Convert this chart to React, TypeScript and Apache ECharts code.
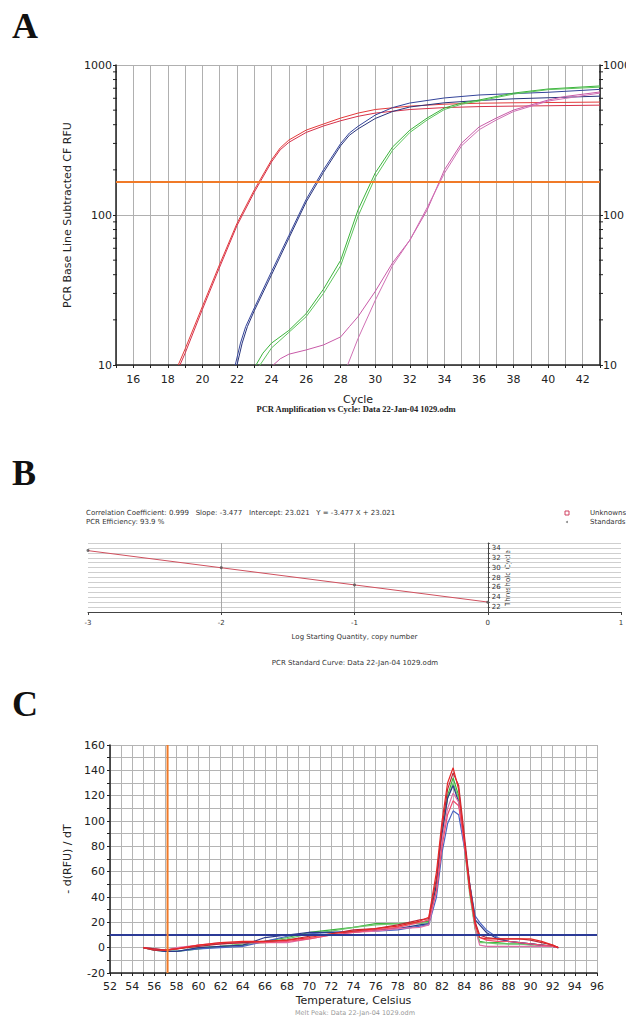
import React, { useEffect, useRef } from "react";
import * as echarts from "echarts";

// ---------- Panel A : amplification ----------
const cycleMin = 15;
const cycleMax = 43;
const rfuMinorTicks = [20, 30, 40, 50, 60, 70, 80, 90, 200, 300, 400, 500, 600, 700, 800, 900];
const thresholdRFU = 166;

const ampRed1 = [[18.6, 10], [19, 12.8], [20, 24.6], [21, 47], [22, 88], [23, 147], [24, 233], [24.5, 280], [25, 316], [26, 368], [27, 404], [28, 443], [29, 478], [30, 505], [32, 532], [34, 548], [36, 556], [38, 560], [40, 562], [43, 566]];
const ampRed2 = [[18.7, 10], [19, 12], [20, 23.5], [21, 45], [22, 85], [23, 142], [24, 226], [24.5, 272], [25, 305], [26, 355], [27, 392], [28, 425], [29, 455], [30, 478], [32, 505], [34, 520], [36, 528], [38, 532], [40, 535], [43, 540]];
const ampBlue1 = [[21.9, 10], [22.2, 14], [22.5, 18], [23, 24], [24, 42], [25, 73], [26, 127], [27, 200], [28, 300], [28.5, 352], [29, 390], [30, 464], [31, 520], [32, 558], [34, 603], [36, 631], [38, 645], [40, 658], [43, 688]];
const ampBlue2 = [[22, 10], [22.3, 14], [22.6, 18], [23, 23], [24, 40], [25, 70], [26, 122], [27, 192], [28, 290], [28.5, 340], [29, 375], [30, 440], [31, 490], [32, 525], [34, 560], [36, 580], [38, 595], [40, 605], [43, 620]];
const ampGreen1 = [[23.1, 10], [23.5, 12], [24, 14], [25, 17], [26, 22], [27, 32], [28, 50], [29, 108], [30, 191], [31, 284], [32, 368], [33, 443], [34, 517], [35, 558], [36, 584], [38, 650], [40, 692], [43, 725]];
const ampGreen2 = [[23.2, 9.5], [24, 13], [25, 16.5], [26, 21], [27, 30], [28, 46], [29, 98], [30, 178], [31, 270], [32, 355], [33, 430], [34, 505], [35, 548], [36, 575], [38, 640], [40, 685], [43, 712]];
const ampPink1 = [[24.1, 10], [24.5, 11], [25, 11.8], [26, 12.6], [27, 13.6], [28, 15.4], [28.5, 18], [29, 21], [30, 31], [31, 48], [32, 68], [33, 108], [34, 200], [35, 302], [36, 386], [37, 443], [38, 501], [39, 541], [40, 584], [41, 617], [43, 661]];
const ampPink2 = [[28.4, 10], [29, 15], [30, 27], [31, 46], [32, 68], [33, 112], [34, 190], [35, 290], [36, 370], [37, 430], [38, 490], [40, 575], [43, 650]];

// ---------- Panel B : standard curve ----------
const logQtyMin = -3;
const logQtyMax = 1;
const ctMin = 21;
const ctMax = 35;
const fitLine = [[-3, 33.45], [0, 23.02]];
const standards = [[-3, 33.5], [-2, 30.0], [-1, 26.5], [0, 23.0]];
const statsLine1 = "Correlation Coefficient: 0.999   Slope: -3.477   Intercept: 23.021   Y = -3.477 X + 23.021";
const statsLine2 = "PCR Efficiency: 93.9 %";

// ---------- Panel C : melt peak ----------
const tempMin = 52;
const tempMax = 96;
const meltThreshold = 10;
const meltBeginTemp = 57.2;
const meltTemps = [55, 56, 57, 58, 60, 62, 64, 66, 68, 70, 72, 74, 76, 78, 80, 80.8, 81.5, 82, 82.5, 83, 83.5, 84, 84.5, 85, 85.4, 86, 87, 88, 89, 90, 91, 92, 92.5];
const meltRed1 = [0, -2, -2, -1, 2, 4, 5, 5, 6, 8, 11, 13, 15, 17, 21, 24, 60, 100, 130, 142, 125, 85, 45, 18, 8, 7, 7, 7, 7, 7, 5, 2, 0];
const meltRed2 = [0, -1, -2, -1, 1, 3, 4, 5, 6, 9, 11, 14, 15, 18, 22, 23, 55, 95, 125, 138, 128, 90, 50, 20, 10, 8, 7, 7, 7, 6, 4, 2, 0];
const meltRed3 = [0, -1, -2, -1, 2, 3, 4, 4, 5, 7, 10, 12, 14, 16, 20, 22, 45, 80, 105, 116, 112, 85, 48, 20, 8, 6, 5, 5, 4, 3, 2, 1, 0];
const meltGreen1 = [0, -1, -3, -3, -1, 1, 2, 5, 8, 12, 14, 16, 19, 19, 20, 21, 50, 90, 120, 134, 120, 85, 45, 15, 5, 4, 4, 3, 3, 3, 2, 1, 0];
const meltGreen2 = [0, -2, -3, -3, 0, 1, 3, 4, 7, 11, 13, 16, 18, 19, 19, 20, 48, 88, 118, 130, 118, 80, 42, 14, 4, 4, 3, 3, 3, 2, 2, 1, 0];
const meltBlue1 = [0, -2, -3, -3, 0, 1, 2, 8, 10, 12, 12, 12, 14, 15, 18, 19, 50, 90, 118, 128, 115, 85, 50, 22, 18, 12, 7, 5, 4, 3, 2, 1, 0];
const meltBlue2 = [0, -1, -3, -3, -1, 0, 1, 5, 9, 11, 12, 13, 13, 14, 17, 18, 40, 75, 98, 108, 105, 80, 50, 25, 20, 14, 8, 5, 4, 3, 2, 1, 0];
const meltPink1 = [0, -1, -2, 0, 2, 4, 4, 4, 4, 7, 10, 12, 13, 15, 16, 18, 45, 85, 110, 122, 115, 82, 45, 15, 2, 1, 1, 1, 1, 1, 1, 1, 0];

const FONT = "DejaVu Sans";

function ampLine(data: number[][], color: string) {
  return {
    type: "line", xAxisIndex: 0, yAxisIndex: 0, data, showSymbol: false, symbol: "none",
    lineStyle: { color, width: 1 }, clip: true, silent: true, z: 3,
  };
}
function meltLine(values: number[], color: string) {
  return {
    type: "line", xAxisIndex: 2, yAxisIndex: 3, data: meltTemps.map((t, i) => [t, values[i]]),
    showSymbol: false, symbol: "none", lineStyle: { color, width: 1.2 }, silent: true, z: 3,
  };
}

export default function App() {
  const ref = useRef<HTMLDivElement>(null);
  useEffect(() => {
    if (!ref.current) return;
    const chart = echarts.init(ref.current, null, { renderer: "svg" });
    const evenLabel = (v: number) => (Math.round(v) % 2 === 0 ? String(Math.round(v)) : "");
    const gridB = { left: 88, top: 543, width: 533, height: 69 };
    // pixel offset that puts panel B's threshold-cycle axis at log quantity 0
    const ctAxisOffset = -(gridB.width * (0 - logQtyMin)) / (logQtyMax - logQtyMin);
    const option: any = {
      animation: false,
      textStyle: { fontFamily: FONT },
      grid: [
        { left: 116, top: 65, width: 484, height: 300, outerBoundsMode: "none" },
        { ...gridB, outerBoundsMode: "none" },
        { left: 110, top: 745, width: 487, height: 228, outerBoundsMode: "none" },
      ],
      xAxis: [
        {
          gridIndex: 0, type: "value", min: cycleMin, max: cycleMax, interval: 1,
          name: "Cycle", nameLocation: "middle", nameGap: 29,
          nameTextStyle: { fontSize: 11, color: "#222", fontFamily: FONT },
          axisLine: { onZero: false, lineStyle: { color: "#222", width: 1.5 } },
          axisTick: { show: true, length: 3, inside: false, lineStyle: { color: "#222" } },
          axisLabel: { formatter: evenLabel, fontSize: 11, color: "#222", margin: 9 },
          splitLine: { show: true, lineStyle: { color: "#b0b0b0", width: 1 } },
        },
        {
          gridIndex: 1, type: "value", min: logQtyMin, max: logQtyMax, interval: 1,
          name: "Log Starting Quantity, copy number", nameLocation: "middle", nameGap: 21,
          nameTextStyle: { fontSize: 7, color: "#333", fontFamily: FONT },
          axisLine: { onZero: false, lineStyle: { color: "#444", width: 1 } },
          axisTick: { show: true, length: 3, lineStyle: { color: "#444" } },
          axisLabel: { fontSize: 7, color: "#333", margin: 7 },
          splitLine: { show: true, showMinLine: false, showMaxLine: false, lineStyle: { color: "#a8a8a8", width: 1 } },
        },
        {
          gridIndex: 2, type: "value", min: tempMin, max: tempMax, interval: 1,
          name: "Temperature, Celsius", nameLocation: "middle", nameGap: 22,
          nameTextStyle: { fontSize: 11, color: "#222", fontFamily: FONT },
          axisLine: { onZero: false, lineStyle: { color: "#222", width: 1.5 } },
          axisTick: { show: true, length: 3, lineStyle: { color: "#222" } },
          axisLabel: { formatter: evenLabel, fontSize: 11, color: "#222", margin: 8 },
          splitLine: { show: true, lineStyle: { color: "#b4b4b4", width: 1 } },
        },
      ],
      yAxis: [
        {
          gridIndex: 0, type: "log", logBase: 10, min: 10, max: 1000, position: "left",
          name: "PCR Base Line Subtracted CF RFU", nameLocation: "middle", nameGap: 40,
          nameTextStyle: { fontSize: 11, color: "#222", fontFamily: FONT },
          axisLine: { show: true, onZero: false, lineStyle: { color: "#222", width: 1.5 } },
          axisTick: { show: true, length: 3, lineStyle: { color: "#222" } },
          axisLabel: { formatter: (v: number) => String(Math.round(v)), fontSize: 11, color: "#222", margin: 4 },
          splitLine: { show: true, lineStyle: { color: "#b0b0b0", width: 1.2 } },
        },
        {
          gridIndex: 0, type: "log", logBase: 10, min: 10, max: 1000, position: "right",
          axisLine: { show: true, onZero: false, lineStyle: { color: "#222", width: 1.5 } },
          axisTick: { show: true, length: 3, lineStyle: { color: "#222" } },
          axisLabel: { formatter: (v: number) => String(Math.round(v)), fontSize: 11, color: "#222", margin: 3 },
          splitLine: { show: false },
        },
        {
          gridIndex: 1, type: "value", min: ctMin, max: ctMax, interval: 1, position: "left",
          offset: ctAxisOffset,
          axisLine: { show: true, onZero: false, lineStyle: { color: "#444", width: 1 } },
          axisTick: { show: true, inside: true, length: 2, lineStyle: { color: "#444" } },
          axisLabel: { inside: true, formatter: (v: number) => (v % 2 === 0 && v >= 22 && v <= 34 ? String(v) : ""), fontSize: 7, color: "#333", margin: 4 },
          splitLine: { show: true, lineStyle: { color: "#cfcfcf", width: 1 } },
        },
        {
          gridIndex: 2, type: "value", min: -20, max: 160, interval: 10, position: "left",
          name: "- d(RFU) / dT", nameLocation: "middle", nameGap: 37,
          nameTextStyle: { fontSize: 11, color: "#222", fontFamily: FONT },
          axisLine: { show: true, onZero: false, lineStyle: { color: "#222", width: 1.5 } },
          axisTick: { show: true, length: 3, lineStyle: { color: "#222" } },
          axisLabel: { formatter: (v: number) => (v % 20 === 0 ? String(v) : ""), fontSize: 11, color: "#222", margin: 5 },
          splitLine: { show: true, lineStyle: { color: "#b4b4b4", width: 1 } },
        },
      ],
      series: [
        ampLine(ampRed1, "#e33a3a"),
        ampLine(ampRed2, "#d6304a"),
        ampLine(ampBlue1, "#34449a"),
        ampLine(ampBlue2, "#28347c"),
        ampLine(ampGreen1, "#3cb43c"),
        ampLine(ampGreen2, "#5cc45c"),
        ampLine(ampPink1, "#c85aa8"),
        ampLine(ampPink2, "#d070b4"),
        {
          type: "line", xAxisIndex: 0, yAxisIndex: 0, showSymbol: false, symbol: "none",
          data: [[cycleMin, thresholdRFU], [cycleMax, thresholdRFU]],
          lineStyle: { color: "#f07a28", width: 2 }, z: 4, silent: true,
        },
        {
          type: "custom", xAxisIndex: 0, yAxisIndex: 0, silent: true, clip: false, z: 5,
          data: rfuMinorTicks.map((v) => [cycleMin, v]),
          renderItem: (_p: any, api: any) => {
            const a = api.coord([cycleMin, api.value(1)]);
            const b = api.coord([cycleMax, api.value(1)]);
            return {
              type: "group",
              children: [
                { type: "line", shape: { x1: a[0] - 3, y1: a[1], x2: a[0] + 1, y2: a[1] }, style: { stroke: "#222", lineWidth: 1 } },
                { type: "line", shape: { x1: b[0] - 1, y1: b[1], x2: b[0] + 3, y2: b[1] }, style: { stroke: "#222", lineWidth: 1 } },
              ],
            };
          },
        },
        // Panel B
        {
          type: "line", xAxisIndex: 1, yAxisIndex: 2, data: fitLine, showSymbol: false, symbol: "none",
          lineStyle: { color: "#d0505e", width: 1 }, z: 3, silent: true,
        },
        {
          type: "scatter", xAxisIndex: 1, yAxisIndex: 2, data: standards, symbol: "circle", symbolSize: 3,
          itemStyle: { color: "#555" }, z: 4, silent: true,
        },
        // Panel C
        meltLine(meltGreen1, "#3cb43c"),
        meltLine(meltGreen2, "#70c870"),
        meltLine(meltBlue2, "#4a64c4"),
        meltLine(meltBlue1, "#2a3a8a"),
        meltLine(meltPink1, "#e070a8"),
        meltLine(meltRed3, "#f05070"),
        meltLine(meltRed2, "#b82838"),
        meltLine(meltRed1, "#e82828"),
        {
          type: "line", xAxisIndex: 2, yAxisIndex: 3, showSymbol: false, symbol: "none",
          data: [[tempMin, meltThreshold], [tempMax, meltThreshold]],
          lineStyle: { color: "#2b3a96", width: 2 }, z: 4, silent: true,
        },
        {
          type: "line", xAxisIndex: 2, yAxisIndex: 3, showSymbol: false, symbol: "none",
          data: [[meltBeginTemp, -20], [meltBeginTemp, 160]],
          lineStyle: { color: "#f07a28", width: 2 }, z: 4, silent: true,
        },
      ],
      graphic: [
        { type: "text", left: 12, top: 8, style: { text: "A", font: "bold 36px 'Liberation Serif'", fill: "#111" } },
        { type: "text", left: 12, top: 455, style: { text: "B", font: "bold 36px 'Liberation Serif'", fill: "#111" } },
        { type: "text", left: 12, top: 686, style: { text: "C", font: "bold 36px 'Liberation Serif'", fill: "#111" } },
        { type: "text", x: 356, y: 409, style: { text: "PCR Amplification vs Cycle: Data 22-Jan-04 1029.odm", font: "bold 8.5px 'Liberation Serif'", fill: "#222", textAlign: "center", textVerticalAlign: "middle" } },
        { type: "text", x: 86, y: 513, style: { text: statsLine1, font: `7px '${FONT}'`, fill: "#333", textVerticalAlign: "middle" } },
        { type: "text", x: 86, y: 522, style: { text: statsLine2, font: `7px '${FONT}'`, fill: "#333", textVerticalAlign: "middle" } },
        { type: "rect", shape: { x: 565, y: 511, width: 4, height: 4 }, style: { fill: "none", stroke: "#d04060", lineWidth: 1 } },
        { type: "circle", shape: { cx: 567, cy: 522, r: 1 }, style: { fill: "#888" } },
        { type: "text", x: 590, y: 513, style: { text: "Unknowns", font: `7px '${FONT}'`, fill: "#333", textVerticalAlign: "middle" } },
        { type: "text", x: 590, y: 522, style: { text: "Standards", font: `7px '${FONT}'`, fill: "#333", textVerticalAlign: "middle" } },
        { type: "text", x: 508, y: 578, rotation: Math.PI / 2, style: { text: "Threshold Cycle", font: `7px '${FONT}'`, fill: "#333", textAlign: "center", textVerticalAlign: "middle" } },
        { type: "text", x: 355, y: 663, style: { text: "PCR Standard Curve: Data 22-Jan-04 1029.odm", font: `7px '${FONT}'`, fill: "#333", textAlign: "center", textVerticalAlign: "middle" } },
        { type: "text", x: 355, y: 1013, style: { text: "Melt Peak: Data 22-Jan-04 1029.odm", font: `6.5px '${FONT}'`, fill: "#999", textAlign: "center", textVerticalAlign: "middle" } },
      ],
    };
    chart.setOption(option);
    return () => chart.dispose();
  }, []);
  return (
    <div
      ref={ref}
      style={{ position: "absolute", left: 0, top: 0, width: 626, height: 1021, background: "#fff" }}
    />
  );
}
